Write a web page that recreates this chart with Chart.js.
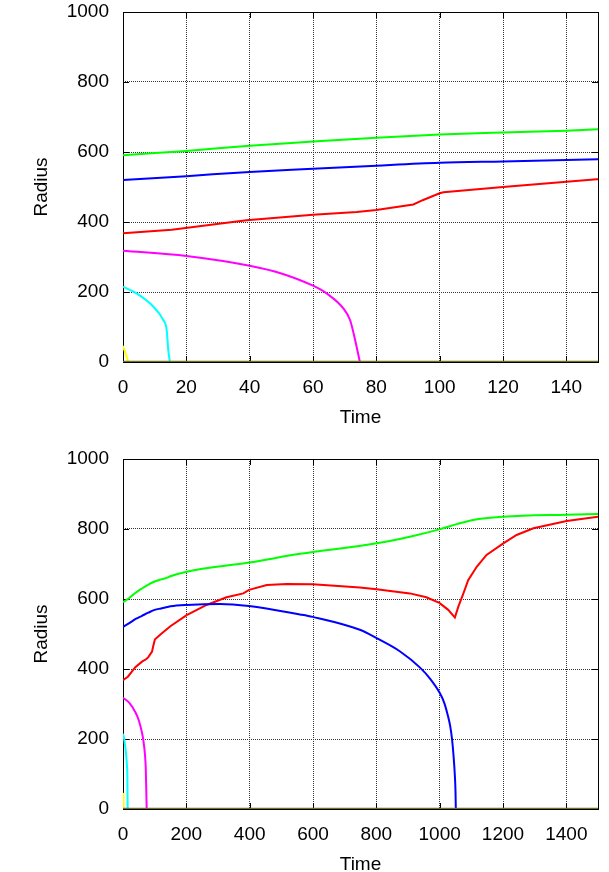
<!DOCTYPE html>
<html><head><meta charset="utf-8">
<script src="https://cdn.jsdelivr.net/npm/chart.js@4/dist/chart.umd.min.js"></script>
<style>
html,body{margin:0;padding:0;background:#fff;overflow:hidden;width:609px;height:872px}
.box{position:absolute;left:0;width:609px;height:436px}
</style></head><body>
<div class="box" style="top:0"><canvas id="c1" width="609" height="436"></canvas></div>
<div class="box" style="top:447px"><canvas id="c2" width="609" height="436"></canvas></div>
<script>
// ---- data (Time, Radius) ----
const redTime   = [0, 15.4, 39, 60, 73.8, 80, 91.7, 94.8, 100, 101.2, 120, 149.6, 201, 264, 327, 380, 398, 454, 517, 599, 748, 801, 906, 958, 999, 1027, 1048, 1059, 1075, 1090, 1117, 1148, 1201, 1243, 1296, 1401, 1500];
const redRadius = [368, 378, 405, 421, 428.6, 434, 450, 463, 482, 485, 500, 522, 554, 583, 605, 616, 626, 640, 643, 642, 633, 628, 616, 605, 589, 569, 547, 578, 616, 654, 692, 726, 759, 783, 802, 823, 835];

const greenTime   = [0, 20, 40, 60, 80, 100, 120, 140, 150, 201, 398, 559, 801, 906, 999, 1054, 1106, 1201, 1401, 1500];
const greenRadius = [591, 603, 618, 630, 641, 650, 656, 661, 665, 678, 704, 729, 759, 778, 799, 814, 826, 835, 841, 843];

const blueTime   = [0, 20, 40, 60, 80, 100, 120, 140, 150, 201, 306, 398, 559, 599, 748, 801, 875, 938, 970, 1000, 1015, 1025, 1033, 1039, 1044, 1048, 1050, 1051];
const blueRadius = [520, 531, 543, 552, 561, 569, 573, 577, 579, 583, 586, 580, 556, 549, 512, 488, 450, 404, 372, 332, 302, 270, 238, 200, 150, 95, 50, 0];

const magentaTime   = [0, 20, 40, 50, 60, 64.3, 69.6, 71.7, 73.3, 74.8];
const magentaRadius = [318, 303, 275, 253, 218, 196, 153, 120, 63, 0];

const cyanTime   = [0, 4.3, 9.6, 12.7, 13.8, 14.3, 14.8];
const cyanRadius = [215, 196, 158, 120, 91, 34, 0];

const yellowTime   = [0, 1.7];
const yellowRadius = [46, 0];

const baseTime   = [0, 1500];
const baseRadius = [0, 0];

const yTicks = [0, 200, 400, 600, 800, 1000];
const xTicksTop = [0, 20, 40, 60, 80, 100, 120, 140];
const xTicksBottom = [0, 200, 400, 600, 800, 1000, 1200, 1400];

function pts(t, r) { return t.map((v, i) => ({x: v, y: r[i]})); }

const FONT = {family: '"Liberation Sans", Arial, sans-serif', size: 19};

const framePlugin = {
  id: 'frame',
  beforeDatasetsDraw(chart) {
    const {ctx, chartArea: a, scales: {x, y}} = chart;
    ctx.save();
    ctx.strokeStyle = '#000';
    ctx.lineWidth = 1;
    ctx.beginPath();
    x.ticks.forEach(t => {
      const p = Math.round(x.getPixelForValue(t.value)) + 0.5;
      ctx.moveTo(p, a.bottom); ctx.lineTo(p, a.bottom - 6);
      ctx.moveTo(p, a.top); ctx.lineTo(p, a.top + 6);
    });
    y.ticks.forEach(t => {
      const p = Math.round(y.getPixelForValue(t.value)) + 0.5;
      ctx.moveTo(a.left, p); ctx.lineTo(a.left + 6, p);
      ctx.moveTo(a.right, p); ctx.lineTo(a.right - 6, p);
    });
    ctx.stroke();
    ctx.strokeRect(Math.round(a.left) + 0.5, Math.round(a.top) + 0.5,
                   Math.round(a.right - a.left), Math.round(a.bottom - a.top));
    ctx.restore();
  }
};

function ds(t, r, color, w, smooth) {
  return {data: pts(t, r), borderColor: color, borderWidth: w || 2, pointRadius: 0,
          tension: 0, cubicInterpolationMode: smooth ? 'monotone' : 'default', fill: false};
}

function makeChart(id, xMax, xTicks) {
  return new Chart(document.getElementById(id), {
    type: 'line',
    data: {
      datasets: [
        ds(baseTime, baseRadius, '#707020', 2.5, false),
        ds(yellowTime, yellowRadius, '#ffff00', 2, false),
        ds(cyanTime, cyanRadius, '#00ffff', 2, true),
        ds(magentaTime, magentaRadius, '#ff00ff', 2, true),
        ds(blueTime, blueRadius, '#0000ff', 2, true),
        ds(greenTime, greenRadius, '#00ff00', 2, true),
        ds(redTime, redRadius, '#ff0000', 2, false)
      ]
    },
    options: {
      responsive: false,
      animation: false,
      layout: {autoPadding: false, padding: {top: 12, right: 11, left: 0, bottom: 0}},
      plugins: {legend: {display: false}, tooltip: {enabled: false}},
      scales: {
        x: {
          type: 'linear', min: 0, max: xMax,
          afterBuildTicks: s => { s.ticks = xTicks.map(v => ({value: v})); },
          ticks: {font: FONT, color: '#000', padding: 14, maxRotation: 0, autoSkip: false,
                  callback: v => String(v)},
          afterFit: s => { s.height = 74; s.paddingLeft = 0; s.paddingRight = 0; },
          grid: {color: '#333', lineWidth: 1, drawTicks: false},
          border: {display: false, dash: [1, 1]},
          title: {display: true, text: 'Time', font: FONT, color: '#000', padding: {top: 0, bottom: 7}}
        },
        y: {
          type: 'linear', min: 0, max: 1000,
          afterBuildTicks: s => { s.ticks = yTicks.map(v => ({value: v})); },
          ticks: {font: FONT, color: '#000', padding: 14, autoSkip: false, callback: v => String(v)},
          afterFit: s => { s.width = 123; s.paddingTop = 0; s.paddingBottom = 0; },
          grid: {color: '#333', lineWidth: 1, drawTicks: false},
          border: {display: false, dash: [1, 1]},
          title: {display: true, text: 'Radius', font: FONT, color: '#000', padding: {top: 30, bottom: 0}}
        }
      }
    },
    plugins: [framePlugin]
  });
}

makeChart('c1', 150, xTicksTop);
makeChart('c2', 1500, xTicksBottom);
</script>
</body></html>
